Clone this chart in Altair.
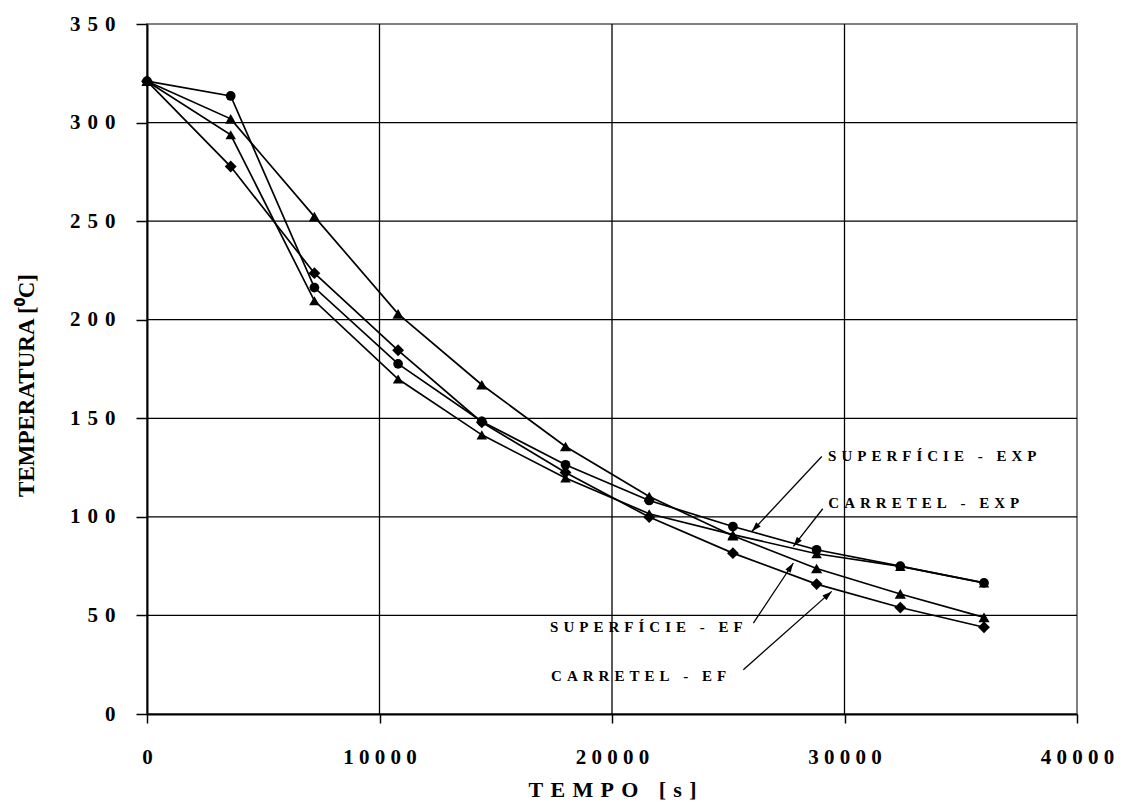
import math
import altair as alt
import pandas as pd

# ---------------- data ----------------
time_s = [0, 3600, 7200, 10800, 14400, 18000, 21600, 25200, 28800, 32400, 36000]
series_names = ["SUPERFÍCIE - EXP", "CARRETEL - EXP", "SUPERFÍCIE - EF", "CARRETEL - EF"]
sup_exp = [321, 313.5, 216.3, 177.6, 148.4, 126.4, 108.3, 95.1, 83.3, 75.0, 66.5]
car_exp = [321, 293.8, 209.6, 169.9, 141.6, 119.7, 101.6, 91.0, 81.3, 74.9, 66.5]
sup_ef = [321, 301.9, 252.3, 203.0, 167.0, 135.7, 110.3, 90.4, 73.8, 60.9, 49.0]
car_ef = [321, 277.7, 223.6, 184.5, 148.0, 122.5, 99.9, 81.6, 65.9, 54.0, 44.0]

x_ticks = [0, 10000, 20000, 30000, 40000]
y_ticks = [0, 50, 100, 150, 200, 250, 300, 350]
x_grid = [10000, 20000, 30000]
y_grid = [50, 100, 150, 200, 250, 300]

# annotation labels and arrows (data coordinates)
label_x = [29293, 29305, 17338, 17381]
label_y = [131.0, 107.0, 44.3, 19.2]
arrow_x1 = [29022, 29065, 26080, 25650]
arrow_y1 = [130.6, 104.1, 46.1, 22.5]
arrow_x2 = [26011, 27800, 27800, 29452]
arrow_y2 = [92.6, 85.0, 76.6, 62.2]

# ---------------- styles ----------------
marker_shapes = ["circle", "triangle-up", "triangle-up", "diamond"]
marker_sizes = [95, 140, 140, 110]
W, H = 930, 690
X_DOM, Y_DOM = [0, 40000], [0, 350]
SEP = "\u2004"
SEP_X = "\u2005"
FONT = "Liberation Serif"


def spaced(s, sep=SEP):
    return sep.join(list(s))


rows = []
for name, vals in zip(series_names, [sup_exp, car_exp, sup_ef, car_ef]):
    for t, v in zip(time_s, vals):
        rows.append({"serie": name, "t": t, "temp": v})
df = pd.DataFrame(rows)

px_x = W / (X_DOM[1] - X_DOM[0])
px_y = H / (Y_DOM[1] - Y_DOM[0])
ann = pd.DataFrame({
    "label": [spaced(n) for n in series_names],
    "lx": label_x, "ly": label_y,
    "x1": arrow_x1, "y1": arrow_y1, "x2": arrow_x2, "y2": arrow_y2,
})
ann["ang"] = [
    (math.degrees(math.atan2((b - a) * px_x, (d - c) * px_y)) + 360) % 360
    for a, b, c, d in zip(ann.x1, ann.x2, ann.y1, ann.y2)
]

xs = alt.Scale(domain=X_DOM, nice=False, zero=False)
ys = alt.Scale(domain=Y_DOM, nice=False, zero=False)

X_TITLE = spaced("TEMPO [s]")
Y_TITLE = "TEMPERATURA [⁰C]"

x_axis = alt.Axis(
    values=x_ticks, format="d", labelExpr=f"join(split(datum.label, ''), '{SEP_X}')", grid=False,
    labelFont=FONT, labelFontSize=21, labelFontWeight="bold", labelColor="black",
    labelFlush=False, labelOverlap=False, labelPadding=23,
    tickColor="black", tickSize=9, tickWidth=1.5,
    domainColor="black", domainWidth=2,
    titleFont=FONT, titleFontSize=22, titleFontWeight="bold", titleColor="black",
    titlePadding=12,
)
y_axis = alt.Axis(
    values=y_ticks, format="d", labelExpr=f"join(split(datum.label, ''), '{SEP}')", grid=False,
    labelFont=FONT, labelFontSize=21, labelFontWeight="bold", labelColor="black",
    labelOverlap=False, labelPadding=21,
    tickColor="black", tickSize=11, tickWidth=1.5,
    domainColor="black", domainWidth=2,
    titleFont=FONT, titleFontSize=23, titleFontWeight="bold", titleColor="black",
    titlePadding=31, titleY=361,
)


def X(field):
    return alt.X(field, scale=xs, axis=x_axis, title=X_TITLE)


def Y(field):
    return alt.Y(field, scale=ys, axis=y_axis, title=Y_TITLE)


gx = alt.Chart(pd.DataFrame({"v": x_grid})).mark_rule(color="black", strokeWidth=1.3).encode(
    x=X("v:Q")
)
gy = alt.Chart(pd.DataFrame({"v": y_grid})).mark_rule(color="black", strokeWidth=1.3).encode(
    y=Y("v:Q")
)

lines = alt.Chart(df).mark_line(color="black", strokeWidth=1.7).encode(
    x=X("t:Q"), y=Y("temp:Q"),
    detail="serie:N",
    order="t:Q",
)

points = alt.Chart(df).mark_point(filled=True, color="black", opacity=1).encode(
    x=X("t:Q"), y=Y("temp:Q"),
    shape=alt.Shape("serie:N", scale=alt.Scale(domain=series_names, range=marker_shapes), legend=None),
    size=alt.Size("serie:N", scale=alt.Scale(domain=series_names, range=marker_sizes), legend=None),
)

arrows = alt.Chart(ann).mark_rule(color="black", strokeWidth=1.3).encode(
    x=X("x1:Q"), y=Y("y1:Q"),
    x2="x2:Q", y2="y2:Q",
)

heads = alt.Chart(ann).mark_point(
    shape="M0,0L0.32,1L-0.32,1Z", filled=True, color="black", opacity=1, size=380
).encode(
    x=X("x2:Q"), y=Y("y2:Q"),
    angle=alt.Angle("ang:Q", scale=None),
)

texts = alt.Chart(ann).mark_text(
    align="left", baseline="middle", font=FONT, fontSize=15, fontWeight="bold", color="black"
).encode(
    x=X("lx:Q"), y=Y("ly:Q"),
    text="label:N",
)

chart = alt.layer(gx, gy, lines, points, arrows, heads, texts).properties(
    width=W, height=H,
    autosize=alt.AutoSizeParams(type="none"),
    padding={"left": 139, "top": 16, "right": 37, "bottom": 87},
    background="white",
).configure_view(stroke="#808080", strokeWidth=2)

chart.save("out.html", embed_options={"renderer": "svg", "actions": False})
